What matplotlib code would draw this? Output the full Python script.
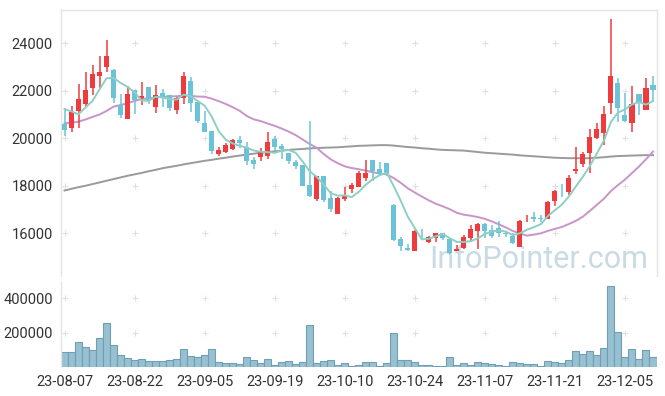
import matplotlib
matplotlib.use("Agg")
import matplotlib.pyplot as plt
import numpy as np

# daily candles, 2023-08-07 .. 2023-12-11 (Korean trading days)
opens = [20600, 20450, 21160, 21460, 22100, 22610, 23010, 22880, 21400, 20830,
         22020, 21690, 22160, 21330, 21900, 21820, 21200, 21710, 22410, 21540,
         20630, 20310, 19340, 19410, 19560, 19920, 19620, 19070, 19230, 19270,
         19970, 19680, 19380, 19000, 18880, 18030, 17430, 18390, 17490, 16800,
         17450, 17870, 17960, 18340, 19090, 18700, 18960, 17190, 15770, 15390,
         15270, 16140, 15650, 15820, 16000, 15760, 15270, 15370, 15820, 16110,
         16380, 16140, 16210, 16000, 15890, 15440, 16590, 16670, 16640, 16600,
         17370, 17790, 17750, 18620, 18900, 19370, 19990, 20240, 21470, 22320,
         20970, 20660, 21850, 21210, 22230]
closes = [20360, 21120, 21640, 22030, 22710, 22790, 23470, 21710, 20970, 21870,
          21630, 21790, 21600, 21820, 21720, 21290, 21710, 22620, 21500, 20740,
          20280, 19480, 19510, 19720, 19920, 19800, 19060, 18920, 19450, 19840,
          19650, 19540, 19050, 18850, 18000, 17580, 18390, 17420, 17040, 17490,
          17630, 18020, 18540, 18540, 18640, 18500, 18500, 15720, 15480, 15290,
          16100, 16120, 15850, 16000, 15790, 15180, 15350, 15850, 16170, 16380,
          16110, 15900, 16000, 15970, 15610, 16520, 16610, 16580, 16600, 17310,
          17780, 17760, 18320, 18710, 19340, 20060, 20390, 21020, 22640, 21290,
          20740, 21430, 21520, 22100, 22030]
highs = [21290, 21370, 22270, 22780, 23090, 23450, 24140, 22900, 21850, 22210,
         22030, 22360, 22170, 22250, 22060, 21840, 21720, 22780, 22570, 21560,
         21150, 20320, 19650, 19790, 19970, 20110, 19830, 19230, 19580, 20280,
         20100, 19750, 19390, 19100, 18890, 20720, 18400, 18400, 17800, 17520,
         17960, 18120, 18610, 19090, 19100, 18990, 18970, 17240, 15860, 15550,
         16120, 16180, 15870, 16010, 16020, 15780, 15500, 15930, 16340, 16450,
         16440, 16340, 16520, 16070, 16030, 16540, 16770, 16890, 16770, 17340,
         17820, 18060, 18460, 19650, 19440, 20390, 20660, 21350, 25010, 22530,
         21900, 22220, 21860, 22530, 22640]
lows = [20100, 20280, 20420, 21330, 21820, 22080, 22800, 21470, 20840, 20820,
        21020, 21400, 21450, 21050, 21300, 21150, 21010, 21430, 21120, 20660,
        20250, 19330, 19240, 19400, 19500, 19580, 18880, 18700, 19050, 19120,
        19480, 19120, 18910, 18700, 17990, 17540, 17370, 17330, 16900, 16790,
        17350, 17690, 17960, 18200, 18200, 18440, 18410, 15680, 15270, 15260,
        15260, 15760, 15600, 15650, 15730, 15130, 15250, 15330, 15690, 15330,
        15790, 15790, 15850, 15860, 15550, 15410, 16460, 16490, 16490, 16590,
        17150, 17530, 17600, 18500, 18800, 18530, 19980, 19720, 21020, 20670,
        20700, 20280, 20980, 21190, 21540]
volumes = [88000, 88000, 148000, 118000, 100000, 166000, 255000, 130000, 68000, 52000,
           40000, 46000, 34000, 34000, 34000, 40000, 46000, 106000, 64000, 58000,
           70000, 106000, 28000, 22000, 22000, 16000, 58000, 40000, 22000, 46000,
           10000, 28000, 34000, 16000, 28000, 245000, 22000, 34000, 40000, 10000,
           22000, 4000, 10000, 28000, 28000, 4000, 22000, 200000, 40000, 40000,
           28000, 10000, 10000, 4000, 4000, 58000, 10000, 22000, 10000, 28000,
           22000, 16000, 10000, 4000, 28000, 22000, 16000, 16000, 4000, 34000,
           28000, 22000, 40000, 94000, 76000, 94000, 70000, 112000, 472000, 202000,
           58000, 106000, 46000, 100000, 58000]

# moving average lines as drawn on the chart
ma_short = [21230, 21130, 21010, 21300, 21572, 22058, 22528, 22542, 22330, 22162,
            21930, 21594, 21572, 21742, 21712, 21644, 21628, 21832, 21768, 21572,
            21370, 20924, 20302, 19946, 19782, 19686, 19602, 19484, 19430, 19414,
            19384, 19480, 19506, 19386, 19018, 18604, 18374, 18048, 17686, 17584,
            17594, 17520, 17744, 18044, 18274, 18448, 18544, 17980, 17368, 16698,
            16218, 15742, 15768, 15872, 15972, 15788, 15634, 15634, 15668, 15786,
            15972, 16082, 16112, 16072, 15918, 16000, 16142, 16258, 16384, 16724,
            16976, 17206, 17554, 17976, 18382, 18838, 19364, 19904, 20690, 21080,
            21216, 21424, 21524, 21416, 21564]
ma_mid = [20630, 20660, 20700, 20790, 20900, 21000, 21150, 21330, 21400, 21470,
          21570, 21650, 21680, 21710, 21750, 21760, 21770, 21790, 21790, 21755,
          21750, 21668, 21562, 21446, 21307, 21158, 20937, 20798, 20722, 20620,
          20521, 20408, 20281, 20132, 19946, 19761, 19595, 19335, 19112, 18950,
          18817, 18744, 18696, 18636, 18572, 18508, 18480, 18320, 18121, 17894,
          17716, 17545, 17385, 17242, 17132, 17012, 16860, 16782, 16738, 16682,
          16606, 16500, 16374, 16245, 16094, 15994, 15900, 15943, 15999, 16100,
          16184, 16266, 16390, 16525, 16702, 16946, 17198, 17457, 17780, 18026,
          18258, 18534, 18810, 19116, 19438]
ma_long = [17800, 17870, 17940, 18000, 18070, 18140, 18210, 18280, 18350, 18420,
           18480, 18540, 18610, 18670, 18740, 18790, 18840, 18900, 18950, 19000,
           19050, 19090, 19140, 19180, 19230, 19270, 19310, 19350, 19390, 19420,
           19450, 19480, 19510, 19530, 19550, 19570, 19590, 19600, 19610, 19620,
           19640, 19660, 19680, 19690, 19700, 19710, 19710, 19690, 19660, 19630,
           19610, 19580, 19560, 19530, 19510, 19500, 19490, 19480, 19450, 19420,
           19390, 19370, 19350, 19330, 19310, 19280, 19260, 19240, 19220, 19200,
           19180, 19170, 19160, 19160, 19160, 19160, 19180, 19200, 19230, 19250,
           19260, 19270, 19280, 19290, 19290]

date_labels = ['23-08-07', '23-08-22', '23-09-05', '23-09-19', '23-10-10',
               '23-10-24', '23-11-07', '23-11-21', '23-12-05']
price_ticks = [16000, 18000, 20000, 22000, 24000]
volume_ticks = [200000, 400000]

UP = '#ef3a3e'
DOWN = '#6cc3d8'
plt.rcParams['font.family'] = ['Roboto', 'DejaVu Sans']

W, H = 665, 396
fig = plt.figure(figsize=(W / 100, H / 100), dpi=100)


def box(x0, y0, x1, y1):
    # pixel box (top-left origin) -> figure fraction
    return [x0 / W, 1 - y1 / H, (x1 - x0) / W, (y1 - y0) / H]


ax = fig.add_axes(box(61, 10, 656.5, 276))
axv = fig.add_axes(box(61, 282, 656.5, 367), sharex=ax)

x = np.arange(len(closes))
o = np.array(opens)
c = np.array(closes)
colors = [UP if cc >= oo else DOWN for oo, cc in zip(o, c)]

# candles: wick + body
ax.vlines(x, lows, highs, colors=colors, linewidth=1.1, zorder=3)
body = np.maximum(np.abs(c - o), 25)
ax.bar(x, body, bottom=np.minimum(o, c), width=0.72, color=colors,
       linewidth=0, zorder=4)

ax.plot(x, ma_long, color='#9a9a9a', lw=1.4, zorder=2)
ax.plot(x, ma_mid, color='#c994c8', lw=1.4, zorder=2)
ax.plot(x, ma_short, color='#8ecfc3', lw=1.4, zorder=5)

# volume bars
axv.bar(x, volumes, width=1.0, color='#98c0d0', edgecolor='#6f9fb6',
        linewidth=0.8, zorder=2)

tick_pos = np.arange(0, len(date_labels) * 10, 10)

ax.set_xlim(-0.5, len(closes) - 0.5)
ax.set_ylim(14200, 25400)
axv.set_ylim(0, 495000)

# light "+" markers at grid intersections instead of grid lines
gx, gy = np.meshgrid(tick_pos, price_ticks)
ax.scatter(gx.ravel(), gy.ravel(), marker='+', s=20, color='#e0e0e0',
           linewidths=0.8, zorder=1)
gx, gy = np.meshgrid(tick_pos, volume_ticks)
axv.scatter(gx.ravel(), gy.ravel(), marker='+', s=20, color='#e0e0e0',
            linewidths=0.8, zorder=1)

ax.set_yticks(price_ticks)
ax.set_yticklabels([str(p) for p in price_ticks])
axv.set_yticks(volume_ticks)
axv.set_yticklabels([str(v) for v in volume_ticks])
axv.set_xticks(tick_pos)
axv.set_xticklabels(date_labels)
ax.tick_params(axis='x', labelbottom=False, length=0)

for a in (ax, axv):
    a.tick_params(length=0, labelsize=10.5, colors='#333333', pad=6)
    for s in a.spines.values():
        s.set_color('#e4e4e4')
        s.set_linewidth(1.0)
ax.spines['bottom'].set_visible(False)
for s in ('top', 'right', 'bottom'):
    axv.spines[s].set_visible(False)

# site watermark
ax.text(648 / W, 1 - 268 / H, 'InfoPointer.com', transform=fig.transFigure,
        fontsize=22, color='#c8dbe4', ha='right', va='baseline', zorder=0.5)

fig.savefig('out.png', dpi=100)
